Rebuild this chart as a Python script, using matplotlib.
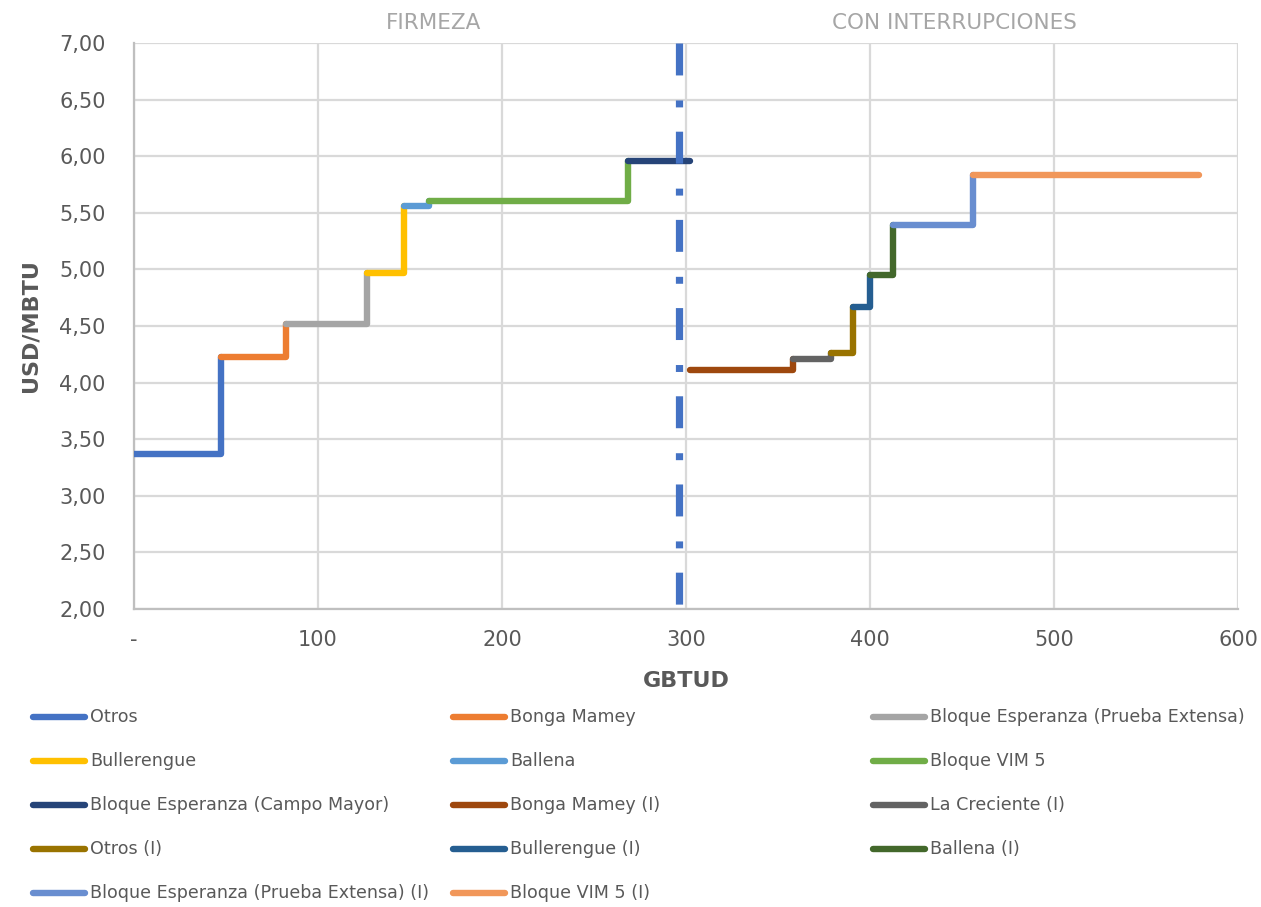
import matplotlib
matplotlib.use("Agg")
import matplotlib.pyplot as plt
from matplotlib.lines import Line2D
from matplotlib.ticker import FuncFormatter, MultipleLocator

# cumulative volume breakpoints (GBTUD) and price of each step (USD/MBTU)
firm_names = ["Otros", "Bonga Mamey", "Bloque Esperanza (Prueba Extensa)",
              "Bullerengue", "Ballena", "Bloque VIM 5",
              "Bloque Esperanza (Campo Mayor)"]
firm_breaks = [0, 47.3, 82.8, 126.6, 146.8, 160.5, 268.6, 302.0]
firm_prices = [3.37, 4.23, 4.52, 4.97, 5.56, 5.60, 5.96]
firm_colors = ["#4472C4", "#ED7D31", "#A5A5A5", "#FFC000", "#5B9BD5",
               "#70AD47", "#264478"]

int_names = ["Bonga Mamey (I)", "La Creciente (I)", "Otros (I)",
             "Bullerengue (I)", "Ballena (I)",
             "Bloque Esperanza (Prueba Extensa) (I)", "Bloque VIM 5 (I)"]
int_breaks = [302.0, 358.2, 378.8, 390.5, 400.2, 412.3, 456.2, 579.0]
int_prices = [4.11, 4.21, 4.26, 4.67, 4.95, 5.39, 5.83]
int_colors = ["#9E480E", "#636363", "#997300", "#255E91", "#43682B",
              "#698ED0", "#F1975A"]

divider_x = 296
section_labels = ["FIRMEZA", "CON INTERRUPCIONES"]
section_label_x = [163, 446]

TXT = "#595959"
GRID = "#D9D9D9"
plt.rcParams["font.family"] = ["DejaVu Sans"]
plt.rcParams["lines.scale_dashes"] = False

W, H = 1261, 907
fig = plt.figure(figsize=(W / 100, H / 100), dpi=100)
ax = fig.add_axes([134 / W, 1 - 609 / H, (1238 - 134) / W, (609 - 43) / H])

LW = 4.6


def draw_steps(breaks, prices, colors):
    n = len(prices)
    for i in range(n):
        xs = [breaks[i], breaks[i + 1]]
        ys = [prices[i], prices[i]]
        if i < n - 1:
            xs.append(breaks[i + 1])
            ys.append(prices[i + 1])
        ax.plot(xs, ys, color=colors[i], lw=LW, solid_capstyle="round",
                solid_joinstyle="round", zorder=3)


draw_steps(firm_breaks, firm_prices, firm_colors)
draw_steps(int_breaks, int_prices, int_colors)

# dash-dot divider between the two sections
ax.plot([divider_x, divider_x], [7.0, 2.0], color="#4472C4", lw=5.2,
        dashes=(23, 18, 5, 17.5), dash_capstyle="butt", zorder=4)

ax.set_xlim(0, 600)
ax.set_ylim(2, 7)
ax.xaxis.set_major_locator(MultipleLocator(100))
ax.yaxis.set_major_locator(MultipleLocator(0.5))
ax.xaxis.set_major_formatter(FuncFormatter(lambda v, p: "-" if v == 0 else f"{v:.0f}"))
ax.yaxis.set_major_formatter(FuncFormatter(lambda v, p: f"{v:.2f}".replace(".", ",")))
ax.grid(True, color=GRID, lw=1.6, zorder=0)
ax.set_axisbelow(True)
for side in ["top", "right"]:
    ax.spines[side].set_visible(False)
for side in ["left", "bottom"]:
    ax.spines[side].set_color("#BFBFBF")
    ax.spines[side].set_linewidth(1.6)
ax.tick_params(axis="both", length=0, labelsize=15, labelcolor=TXT)
ax.tick_params(axis="x", pad=15)
ax.tick_params(axis="y", pad=20.5)

ax.set_xlabel("GBTUD", fontsize=16, fontweight="bold", color=TXT, labelpad=15)
ax.set_ylabel("USD/MBTU", fontsize=16, fontweight="bold", color=TXT, labelpad=13.5)

for lab, lx in zip(section_labels, section_label_x):
    ax.text(lx, 1.036, lab, transform=ax.get_xaxis_transform(), ha="center",
            va="center", fontsize=15.5, color="#A6A6A6")

# legend laid out like the spreadsheet: three fixed-width columns
all_names = firm_names + int_names
all_colors = firm_colors + int_colors
col_x = [30, 450, 870]
row_y = [717, 761, 805, 849, 893]
for i, (name, col) in enumerate(zip(all_names, all_colors)):
    x0 = col_x[i % 3]
    y0 = row_y[i // 3]
    fy = 1 - y0 / H
    fig.add_artist(Line2D([(x0 + 3) / W, (x0 + 55) / W], [fy, fy], color=col,
                          lw=LW, solid_capstyle="round"))
    fig.text((x0 + 60) / W, fy, name, ha="left", va="center", fontsize=12.6,
             color=TXT)

fig.savefig("out.png", dpi=100)
